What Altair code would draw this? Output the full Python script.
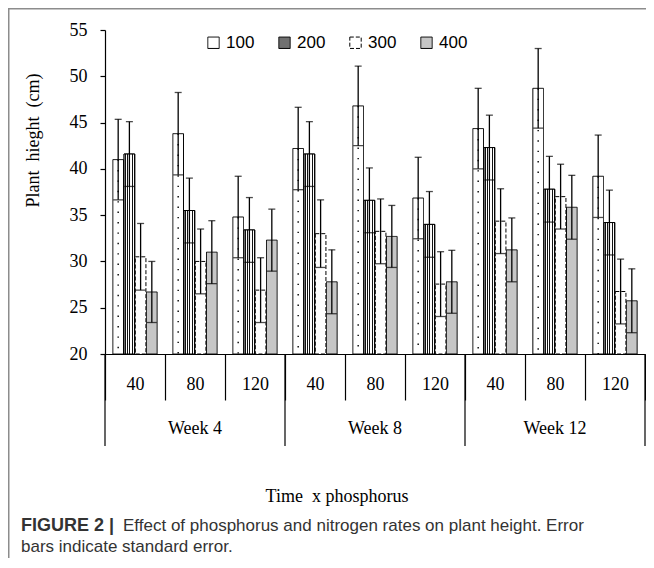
import altair as alt
import pandas as pd

weeks = ["Week 4", "Week 8", "Week 12"]
rates = ["40", "80", "120"]
series = ["100", "200", "300", "400"]

# bar heights (cm), one value per week x rate group
v100 = [41.0, 43.8, 34.8, 42.2, 46.8, 36.85, 44.35, 48.7, 39.2]
v200 = [41.6, 35.5, 33.4, 41.6, 36.6, 34.0, 42.3, 37.8, 34.2]
v300 = [30.5, 30.0, 26.9, 33.0, 33.25, 27.55, 34.35, 37.0, 26.75]
v400 = [26.7, 31.0, 32.3, 27.8, 32.7, 27.8, 31.25, 35.85, 25.75]
# standard errors
e100 = [4.35, 4.45, 4.4, 4.45, 4.3, 4.4, 4.35, 4.3, 4.45]
e200 = [3.5, 3.5, 3.5, 3.5, 3.5, 3.55, 3.5, 3.55, 3.5]
e300 = [3.6, 3.5, 3.5, 3.65, 3.5, 3.5, 3.5, 3.5, 3.5]
e400 = [3.3, 3.4, 3.35, 3.45, 3.35, 3.4, 3.45, 3.45, 3.45]

yticks = [20, 25, 30, 35, 40, 45, 50, 55]

vals = {"100": v100, "200": v200, "300": v300, "400": v400}
errs = {"100": e100, "200": e200, "300": e300, "400": e400}

cat_order = [f"{w}|{r}" for w in weeks for r in rates]
rows = []
for i, c in enumerate(cat_order):
    for s in series:
        rows.append({"cat": c, "series": s, "value": vals[s][i], "se": errs[s][i]})
df = pd.DataFrame(rows)

SERIF = "Liberation Serif"
SANS = "Liberation Sans"

xscale = alt.Scale(domain=cat_order, paddingInner=0, paddingOuter=0)
xaxis = alt.Axis(
    title=None,
    labelExpr="split(datum.value, '|')[1]",
    tickBand="extent",
    tickSize=46,
    tickColor="black",
    tickWidth=1.2,
    domainColor="black",
    domainWidth=1.2,
    labelFont=SERIF,
    labelFontSize=18,
    labelColor="black",
    labelAngle=0,
    labelBaseline="middle",
    labelPadding=-16,
    grid=False,
)


def xenc(band=None):
    if band is None:
        return alt.X("cat:N", scale=xscale, axis=xaxis)
    return alt.X("cat:N", scale=xscale, axis=xaxis, bandPosition=band)


yscale = alt.Scale(domain=[20, 55], nice=False, zero=False)
yaxis = alt.Axis(
    values=yticks,
    title="Plant\u00a0 hieght\u00a0 (cm)",
    titleFont=SERIF,
    titleFontSize=18,
    titleFontWeight="normal",
    titleColor="black",
    titleX=-72,
    titleY=110,
    titleBaseline="middle",
    titleAlign="center",
    labelFont=SERIF,
    labelFontSize=18,
    labelColor="black",
    labelPadding=13,
    tickSize=5,
    tickColor="black",
    tickWidth=1.2,
    domainColor="black",
    domainWidth=1.2,
    grid=False,
)


def yenc(field):
    return alt.Y(f"{field}:Q", scale=yscale, axis=yaxis)


xoff = alt.XOffset("series:N", scale=alt.Scale(domain=series, paddingInner=0.05, paddingOuter=0.7))

base = alt.Chart(df)

bars = base.mark_bar(stroke="black", strokeWidth=1).encode(
    x=xenc(),
    xOffset=xoff,
    y=yenc("value"),
    y2=alt.datum(20),
    fill=alt.Fill(
        "series:N",
        scale=alt.Scale(domain=series, range=["#ffffff", "#707070", "#ffffff", "#c6c6c6"]),
        legend=alt.Legend(
            title=None,
            orient="none",
            legendX=100,
            legendY=4,
            direction="horizontal",
            columns=4,
            columnPadding=21,
            symbolType="square",
            symbolSize=130,
            symbolStrokeColor="black",
            symbolStrokeWidth=1,
            labelFont=SANS,
            labelFontSize=17,
            labelColor="black",
            labelOffset=4,
        ),
    ),
    strokeDash=alt.StrokeDash(
        "series:N",
        scale=alt.Scale(domain=series, range=[[1, 0], [1, 0], [4, 2], [1, 0]]),
        legend=None,
    ),
)

# vertical stripe pattern for the 200 series
stops = []
n = 10
for k in range(n):
    col = "#ffffff" if k % 2 == 0 else "#111111"
    stops.append(alt.GradientStop(offset=k / n, color=col))
    stops.append(alt.GradientStop(offset=(k + 1) / n, color=col))
stripe = alt.LinearGradient(gradient="linear", stops=stops, x1=0, x2=1, y1=0, y2=0)

bars200 = base.transform_filter("datum.series == '200'").mark_bar(
    fill=stripe, stroke="black", strokeWidth=1
).encode(x=xenc(), xOffset=xoff, y=yenc("value"), y2=alt.datum(20))

dots100 = base.transform_filter("datum.series == '100'").mark_rule(
    color="black", strokeWidth=1.4, strokeDash=[1.4, 9], xOffset=-2
).encode(x=xenc(), xOffset=xoff, y=yenc("value"), y2=alt.datum(20))

err = base.transform_calculate(lo="datum.value - datum.se", hi="datum.value + datum.se")
err_rule = err.mark_rule(color="black", strokeWidth=1.3).encode(
    x=xenc(), xOffset=xoff, y=yenc("lo"), y2="hi:Q"
)
cap_hi = err.mark_tick(color="black", thickness=1.3, size=7).encode(
    x=xenc(), xOffset=xoff, y=yenc("hi")
)
cap_lo = err.mark_tick(color="black", thickness=1.3, size=10).encode(
    x=xenc(), xOffset=xoff, y=yenc("lo")
)

week_start = pd.DataFrame({"cat": [f"{w}|{rates[0]}" for w in weeks]})
week_end = pd.DataFrame({"cat": [f"{weeks[-1]}|{rates[-1]}"]})
week_mid = pd.DataFrame({"cat": [f"{w}|{rates[1]}" for w in weeks], "week": weeks})

sep_start = alt.Chart(week_start).mark_rule(color="black", strokeWidth=1.2).encode(
    x=xenc(0), y=alt.value(324), y2=alt.value(416)
)
sep_end = alt.Chart(week_end).mark_rule(color="black", strokeWidth=1.2).encode(
    x=xenc(1), y=alt.value(324), y2=alt.value(416)
)
week_text = alt.Chart(week_mid).mark_text(
    font=SERIF, fontSize=18, color="black", baseline="middle"
).encode(x=xenc(), text="week:N", y=alt.value(399))

one = alt.Data(values=[{}])
xtitle = alt.Chart(one).mark_text(
    text="Time\u00a0 x phosphorus", font=SERIF, fontSize=18, color="black", baseline="middle"
).encode(x=alt.value(232), y=alt.value(467))

cap1 = alt.Chart(one).mark_text(
    text="FIGURE 2 |", font=SANS, fontSize=18, fontWeight="bold", color="#333333",
    align="left", baseline="middle"
).encode(x=alt.value(-84), y=alt.value(496))
cap2 = alt.Chart(one).mark_text(
    text="Effect of phosphorus and nitrogen rates on plant height. Error", font=SANS,
    fontSize=17, color="#333333", align="left", baseline="middle"
).encode(x=alt.value(18), y=alt.value(496))
cap3 = alt.Chart(one).mark_text(
    text="bars indicate standard error.", font=SANS, fontSize=17, color="#333333",
    align="left", baseline="middle"
).encode(x=alt.value(-84), y=alt.value(517))

frame_top = alt.Chart(one).mark_rule(color="#8c8c8c", strokeWidth=1.5).encode(
    x=alt.value(-97), x2=alt.value(545), y=alt.value(-21.25)
)
frame_left = alt.Chart(one).mark_rule(color="#8c8c8c", strokeWidth=1.5).encode(
    x=alt.value(-96.25), y=alt.value(-22), y2=alt.value(540)
)

chart = alt.layer(
    bars, bars200, dots100, err_rule, cap_hi, cap_lo,
    sep_start, sep_end, week_text, xtitle, cap1, cap2, cap3, frame_top, frame_left,
).properties(
    width=540,
    height=324,
    padding={"left": 97, "top": 22, "right": 1, "bottom": 204},
    autosize=alt.AutoSizeParams(type="none"),
).configure(background="white", view=alt.ViewConfig(stroke=None))

chart.save("out.html", embed_options={"renderer": "svg", "actions": False})
